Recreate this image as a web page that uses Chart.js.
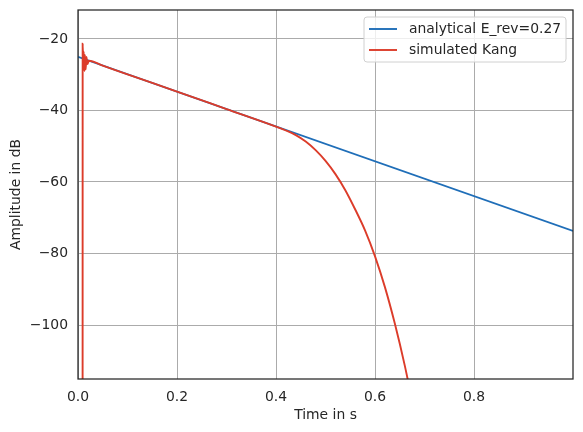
<!DOCTYPE html>
<html>
<head>
<meta charset="utf-8">
<script src="https://cdn.jsdelivr.net/npm/chart.js@4/dist/chart.umd.min.js"></script>
<style>
  html, body { margin: 0; padding: 0; background: #fff; }
  #wrap { width: 583px; height: 432px; }
</style>
</head>
<body>
<div id="wrap"><canvas id="chart" width="583" height="432"></canvas></div>
<script>
// analytical decay (straight line in dB)
const analyticalTime = [0, 0.9999];
const analyticalDb = [-25, -73.7];

// simulated decay
const simulatedTime = [0, 0.0092, 0.0094, 0.0105, 0.0115, 0.013, 0.014, 0.0155, 0.017, 0.019, 0.022,
  0.05, 0.1, 0.2, 0.3, 0.4, 0.42, 0.44, 0.46, 0.48, 0.5, 0.52, 0.54, 0.56, 0.58, 0.6, 0.62, 0.64, 0.66, 0.68];
const simulatedDb = [-300, -300, -21.3, -27, -23.5, -29, -24.5, -28.5, -25, -27, -26.1,
  -27.45, -29.9, -34.7, -39.6, -44.5, -45.6, -46.9, -48.7, -51.1, -54.1, -57.8, -62.3, -67.7, -73.6, -80.8, -89.4, -99.6, -111.3, -124.6];

const labels = ["analytical E_rev=0.27", "simulated Kang"];
const colors = ["#1f6eb8", "#dc3c2a"];
const xTicks = [0, 0.2, 0.4, 0.6, 0.8];
const yTicks = [-100, -80, -60, -40, -20];

const FONT = "DejaVu Sans";
const FSIZE = 13.9;
const TEXT = "#262626";

function toPoints(xs, ys) {
  return xs.map((x, i) => ({ x: x, y: ys[i] }));
}

const frameAndLegend = {
  id: "frameAndLegend",
  afterDraw(chart) {
    const ctx = chart.ctx;
    const a = chart.chartArea;
    ctx.save();
    ctx.strokeStyle = TEXT;
    ctx.lineWidth = 1.25;
    ctx.strokeRect(a.left, a.top, a.right - a.left, a.bottom - a.top);

    // legend box, upper right
    const bx = 364, by = 17, bw = 202, bh = 45, r = 3;
    ctx.beginPath();
    ctx.roundRect(bx, by, bw, bh, r);
    ctx.fillStyle = "rgba(255,255,255,0.8)";
    ctx.fill();
    ctx.strokeStyle = "#d0d0d0";
    ctx.lineWidth = 1;
    ctx.stroke();

    ctx.font = FSIZE + "px '" + FONT + "'";
    ctx.textBaseline = "middle";
    ctx.textAlign = "left";
    chart.data.datasets.forEach((ds, i) => {
      const y = 29 + i * 21;
      ctx.beginPath();
      ctx.moveTo(369, y);
      ctx.lineTo(397, y);
      ctx.strokeStyle = ds.borderColor;
      ctx.lineWidth = 1.9;
      ctx.stroke();
      ctx.fillStyle = TEXT;
      ctx.fillText(ds.label, 409, y + 0.5);
    });
    ctx.restore();
  }
};

new Chart(document.getElementById("chart"), {
  type: "line",
  data: {
    datasets: [
      {
        label: labels[0],
        data: toPoints(analyticalTime, analyticalDb),
        borderColor: colors[0],
        borderWidth: 1.9,
        pointRadius: 0,
        order: 1
      },
      {
        label: labels[1],
        data: toPoints(simulatedTime, simulatedDb),
        borderColor: colors[1],
        borderWidth: 1.9,
        pointRadius: 0,
        cubicInterpolationMode: "monotone",
        order: 0
      }
    ]
  },
  options: {
    responsive: false,
    animation: false,
    layout: { padding: { left: 0, right: 10, top: 10, bottom: 0 } },
    plugins: {
      legend: { display: false },
      tooltip: { enabled: false }
    },
    scales: {
      x: {
        type: "linear",
        min: 0,
        max: 0.9999,
        afterBuildTicks: s => { s.ticks = xTicks.map(v => ({ value: v })); },
        afterFit: s => { s.height = 53; s.paddingLeft = 0; s.paddingRight = 0; },
        grid: { color: "#ababab", lineWidth: 1, drawTicks: false },
        border: { display: false },
        ticks: {
          padding: 10,
          color: TEXT,
          font: { family: FONT, size: FSIZE },
          callback: v => v.toFixed(1)
        },
        title: {
          display: true,
          text: "Time in s",
          color: TEXT,
          font: { family: FONT, size: FSIZE },
          padding: { top: 2, bottom: 8 }
        }
      },
      y: {
        min: -115.1,
        max: -11.9,
        afterBuildTicks: s => { s.ticks = yTicks.map(v => ({ value: v })); },
        afterFit: s => { s.width = 78; s.paddingTop = 0; s.paddingBottom = 0; },
        grid: { color: "#ababab", lineWidth: 1, drawTicks: false },
        border: { display: false },
        ticks: {
          padding: 10,
          color: TEXT,
          font: { family: FONT, size: FSIZE },
          callback: v => String(v).replace("-", "\u2212")
        },
        title: {
          display: true,
          text: "Amplitude in dB",
          color: TEXT,
          font: { family: FONT, size: FSIZE },
          padding: { top: 8, bottom: 4 }
        }
      }
    }
  },
  plugins: [frameAndLegend]
});
</script>
</body>
</html>
